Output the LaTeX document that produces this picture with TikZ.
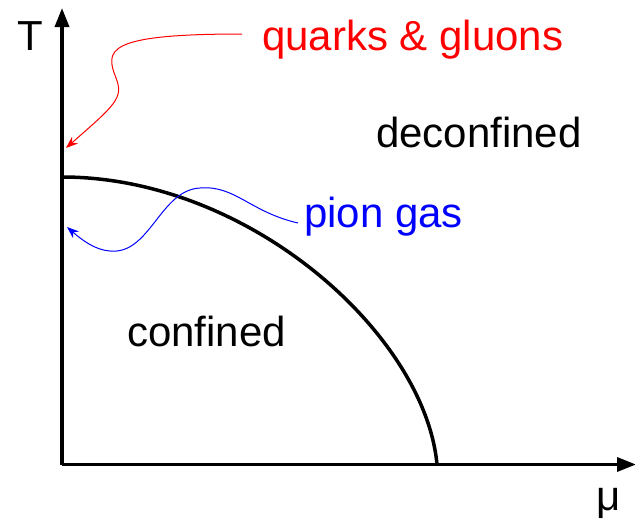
\documentclass[tikz,border=0pt]{standalone}
\usepackage{fontspec}
\setmainfont{Liberation Sans}
\usetikzlibrary{arrows.meta}
\begin{document}
\begin{tikzpicture}[x=1pt,y=-1pt,
  lbl/.style={inner sep=0pt,anchor=base west,font=\fontsize{42}{48}\selectfont},
  axis/.style={line width=3.5pt,-{Triangle[width=14pt,length=19pt]}},
  pointer/.style={line width=1pt,-{Stealth[width=9pt,length=12pt]}}]
\useasboundingbox (0,0) rectangle (635,522);
\coordinate (O) at (62,464.5);
\coordinate (Ttop) at (62,8);
\coordinate (Mend) at (636,464.5);
\coordinate (Tc) at (62,177);
\coordinate (Mc) at (437,464.5);
\draw[axis] (O) -- (Ttop);
\draw[axis] (O) -- (Mend);
\node[lbl] (T) at (17,50) {T};
\node[lbl] (mu) at (596,510) {μ};
\node[lbl] (dec) at (376,147) {deconfined};
\node[lbl] (conf) at (127,346) {confined};
\node[lbl,text=red] (qg) at (262,50) {quarks \& gluons};
\node[lbl,text=blue] (pg) at (304,227) {pion gas};
\draw[line width=3.5pt] (Tc) .. controls (250,177) and (425,335) .. (Mc);
\coordinate (qs) at (242,34);
\coordinate (qe) at (66,148);
\draw[red,pointer] (qs) .. controls (105,34) and (105,50) .. (116,78)
  .. controls (124,98) and (115,105) .. (qe);
\coordinate (ps) at (298,223);
\coordinate (pe) at (67,227);
\draw[blue,pointer] (ps) .. controls (250,212) and (235,185) .. (200,188)
  .. controls (160,190) and (150,255) .. (110,251)
  .. controls (95,250) and (82,240) .. (pe);
\end{tikzpicture}
\end{document}
